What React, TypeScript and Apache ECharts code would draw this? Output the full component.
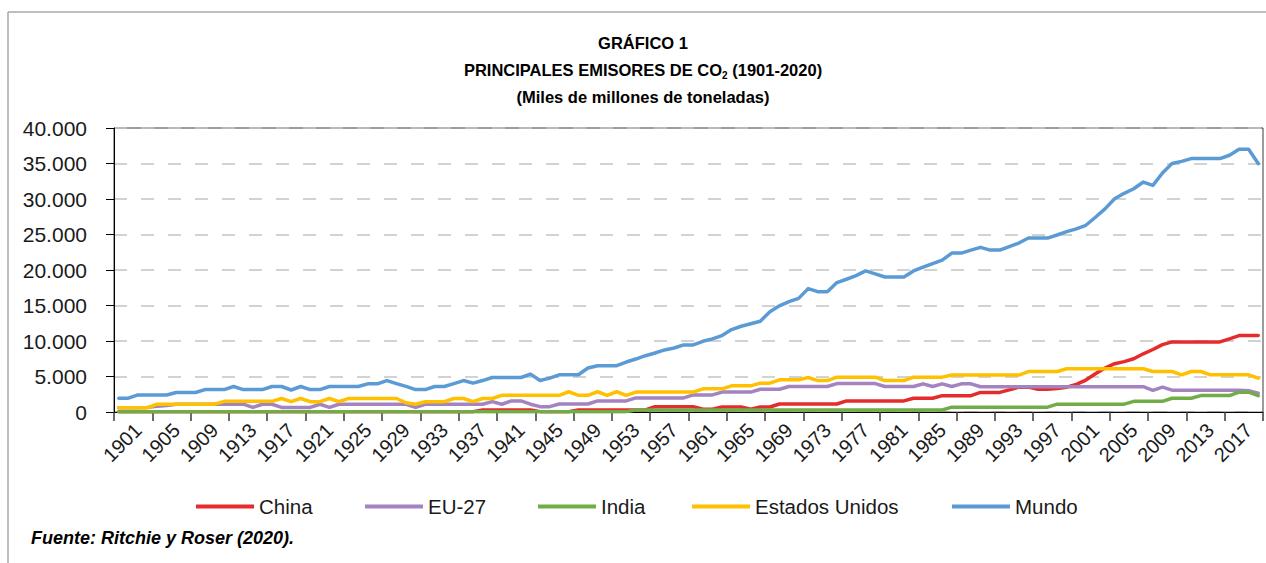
import { useEffect, useRef } from 'react';
import * as echarts from 'echarts';

// Categories: years 1901-2020
const years: string[] = Array.from({ length: 120 }, (_, i) => String(1901 + i));

// Values in millions of tonnes (axis shows "miles de millones" with '.' separator)
const china: number[] = [
  50, 50, 50, 50, 50, 50, 50, 50, 50, 50,
  50, 50, 50, 50, 50, 50, 50, 50, 50, 50,
  50, 50, 50, 50, 50, 50, 50, 50, 50, 50,
  50, 50, 50, 50, 50, 50, 50, 50, 280, 280,
  280, 280, 280, 280, 50, 50, 50, 50, 280, 280,
  280, 280, 280, 280, 280, 280, 750, 750, 750, 750,
  750, 400, 400, 700, 700, 700, 400, 700, 700, 1130,
  1130, 1130, 1130, 1130, 1130, 1130, 1560, 1560, 1560, 1560,
  1560, 1560, 1560, 1940, 1940, 1940, 2300, 2300, 2300, 2300,
  2760, 2760, 2760, 3120, 3500, 3500, 3200, 3200, 3300, 3500,
  3900, 4500, 5380, 6200, 6800, 7100, 7500, 8200, 8800, 9490,
  9870, 9870, 9870, 9870, 9870, 9870, 10300, 10760, 10760, 10760,
];

const eu27: number[] = [
  600, 600, 600, 650, 800, 900, 1100, 1100, 1100, 1100,
  1100, 1100, 1100, 1100, 650, 1090, 1090, 650, 650, 650,
  650, 1090, 650, 1090, 1090, 1090, 1090, 1090, 1090, 1090,
  1090, 650, 1090, 1090, 1090, 1090, 1090, 1090, 1100, 1460,
  1090, 1560, 1560, 1100, 750, 750, 1130, 1130, 1130, 1130,
  1560, 1560, 1560, 1560, 1980, 1980, 1980, 1980, 1980, 1980,
  2410, 2410, 2410, 2800, 2800, 2800, 2800, 3210, 3210, 3210,
  3590, 3590, 3590, 3590, 3590, 4000, 4000, 4000, 4000, 4000,
  3590, 3590, 3590, 3590, 3970, 3590, 3970, 3590, 3970, 3970,
  3560, 3560, 3560, 3560, 3560, 3560, 3560, 3560, 3560, 3560,
  3560, 3560, 3560, 3560, 3560, 3560, 3560, 3560, 3050, 3500,
  3070, 3070, 3070, 3070, 3070, 3070, 3070, 3070, 3000, 2650,
];

const india: number[] = [
  50, 50, 50, 50, 50, 50, 50, 50, 50, 50,
  50, 50, 50, 50, 50, 50, 50, 50, 50, 50,
  50, 50, 50, 50, 50, 50, 50, 50, 50, 50,
  50, 50, 50, 50, 50, 50, 50, 50, 50, 50,
  50, 50, 50, 50, 50, 50, 50, 50, 50, 50,
  50, 50, 50, 50, 280, 280, 280, 280, 280, 280,
  280, 280, 280, 280, 280, 280, 280, 280, 280, 280,
  280, 280, 280, 280, 280, 280, 280, 280, 280, 280,
  280, 280, 280, 280, 280, 280, 280, 680, 680, 680,
  680, 680, 680, 680, 680, 680, 680, 680, 1100, 1100,
  1100, 1100, 1100, 1100, 1100, 1100, 1500, 1500, 1500, 1500,
  1940, 1940, 1940, 2310, 2310, 2310, 2310, 2790, 2790, 2310,
];

const estadosUnidos: number[] = [
  600, 600, 600, 600, 1100, 1100, 1100, 1100, 1100, 1100,
  1100, 1500, 1500, 1500, 1500, 1500, 1500, 1900, 1450, 1900,
  1450, 1450, 1900, 1450, 1900, 1900, 1900, 1900, 1900, 1900,
  1300, 1100, 1450, 1450, 1450, 1900, 1900, 1450, 1900, 1900,
  2350, 2350, 2350, 2350, 2350, 2350, 2350, 2850, 2350, 2350,
  2850, 2350, 2850, 2350, 2800, 2800, 2800, 2800, 2800, 2800,
  2800, 3260, 3260, 3260, 3680, 3680, 3680, 4060, 4060, 4530,
  4530, 4530, 4860, 4430, 4430, 4910, 4910, 4910, 4910, 4910,
  4430, 4430, 4430, 4910, 4910, 4910, 4910, 5200, 5200, 5200,
  5200, 5200, 5200, 5200, 5200, 5700, 5700, 5700, 5700, 6090,
  6090, 6090, 6090, 6090, 6090, 6090, 6090, 6090, 5700, 5700,
  5700, 5240, 5700, 5700, 5240, 5240, 5240, 5240, 5240, 4770,
];

const mundo: number[] = [
  1950, 1950, 2400, 2400, 2400, 2400, 2750, 2750, 2750, 3160,
  3160, 3160, 3590, 3160, 3160, 3160, 3590, 3590, 3100, 3590,
  3160, 3160, 3590, 3590, 3590, 3590, 3970, 3970, 4430, 4000,
  3600, 3160, 3160, 3590, 3590, 4000, 4430, 4060, 4430, 4860,
  4860, 4860, 4860, 5340, 4430, 4770, 5240, 5240, 5240, 6190,
  6520, 6520, 6520, 7040, 7460, 7930, 8310, 8740, 9020, 9450,
  9450, 9960, 10300, 10760, 11610, 12080, 12420, 12790, 14120, 14950,
  15540, 16000, 17380, 16950, 16950, 18230, 18700, 19200, 19870, 19450,
  19020, 19020, 19020, 19870, 20400, 20900, 21390, 22380, 22380, 22800,
  23190, 22800, 22800, 23300, 23800, 24500, 24500, 24500, 24930, 25400,
  25800, 26300, 27430, 28610, 30030, 30800, 31440, 32390, 31910, 33670,
  34990, 35300, 35690, 35690, 35690, 35690, 36160, 37010, 37010, 34990,
];

const seriesNames: string[] = ['China', 'EU-27', 'India', 'Estados Unidos', 'Mundo'];
const seriesColors: string[] = ['#E52B2B', '#A383C0', '#70AD47', '#FFC000', '#5B9BD5'];
const yTickValues: number[] = [0, 5000, 10000, 15000, 20000, 25000, 30000, 35000, 40000];

const titleLines: string[] = ['GRÁFICO 1', 'PRINCIPALES EMISORES DE CO', '2', ' (1901-2020)', '(Miles de millones de toneladas)'];
const sourceText = 'Fuente: Ritchie y Roser (2020).';

function fmtThousands(v: number): string {
  return String(v).replace(/\B(?=(\d{3})+(?!\d))/g, '.');
}

export default function App() {
  const ref = useRef<HTMLDivElement>(null);

  useEffect(() => {
    if (!ref.current) return;
    const chart = echarts.init(ref.current, undefined, { renderer: 'svg' });
    const font = '"Liberation Sans", Arial, Helvetica, sans-serif';
    const data = [china, eu27, india, estadosUnidos, mundo];
    const legendLeft = [196, 365, 538, 692, 952];

    chart.setOption({
      animation: false,
      textStyle: { fontFamily: font },
      title: [
        {
          text: titleLines[0],
          left: 643,
          top: 34,
          textAlign: 'center',
          padding: 0,
          textStyle: { fontSize: 16.5, fontWeight: 'bold', color: '#000', fontFamily: font },
        },
        {
          text: `{b|${titleLines[1]}}{s|${titleLines[2]}}{b|${titleLines[3]}}`,
          left: 643,
          top: 60,
          textAlign: 'center',
          padding: 0,
          textStyle: {
            rich: {
              b: { fontSize: 16.5, fontWeight: 'bold', color: '#000', fontFamily: font, lineHeight: 20, verticalAlign: 'middle' },
              s: { fontSize: 10, fontWeight: 'bold', color: '#000', fontFamily: font, lineHeight: 8, verticalAlign: 'bottom' },
            },
          },
        },
        {
          text: titleLines[4],
          left: 643,
          top: 88,
          textAlign: 'center',
          padding: 0,
          textStyle: { fontSize: 16.5, fontWeight: 'bold', color: '#000', fontFamily: font },
        },
      ],
      legend: seriesNames.map((n, i) => ({
        data: [n],
        left: legendLeft[i],
        top: 496,
        padding: 0,
        icon: 'rect',
        itemWidth: 58,
        itemHeight: 4,
        selectedMode: false,
        textStyle: { fontSize: 20.5, color: '#1a1a1a', fontFamily: font },
      })),
      grid: {
        left: 114,
        right: 3,
        top: 128,
        bottom: 151,
        show: true,
        borderColor: '#3a3a3a',
        borderWidth: 1,
      },
      xAxis: {
        type: 'category',
        data: years,
        boundaryGap: true,
        axisLine: { show: true, lineStyle: { color: '#000', width: 1 } },
        axisTick: { show: true, interval: 3, length: 9, lineStyle: { color: '#3a3a3a', width: 1.5 } },
        axisLabel: {
          interval: 3,
          rotate: 45,
          align: 'center',
          verticalAlign: 'middle',
          margin: 34,
          fontSize: 20,
          color: '#1a1a1a',
          fontFamily: font,
          padding: [0, 0, 0, 10],
        },
        splitLine: { show: false },
      },
      yAxis: {
        type: 'value',
        min: yTickValues[0],
        max: yTickValues[yTickValues.length - 1],
        interval: yTickValues[1] - yTickValues[0],
        axisLine: { show: true, lineStyle: { color: '#000', width: 1 } },
        axisTick: { show: true, length: 8, lineStyle: { color: '#000', width: 1 } },
        axisLabel: {
          margin: 27,
          fontSize: 21,
          color: '#1a1a1a',
          fontFamily: font,
          formatter: (v: number) => fmtThousands(v),
        },
        splitLine: { show: true, lineStyle: { color: '#C4C4C4', width: 1.5, type: [13, 14] } },
      },
      series: seriesNames.map((n, i) => ({
        name: n,
        type: 'line',
        data: data[i],
        showSymbol: false,
        symbol: 'none',
        color: seriesColors[i],
        lineStyle: { color: seriesColors[i], width: 3.5, cap: 'round', join: 'round' },
        z: 2 + i,
      })),
      graphic: [
        { type: 'line', shape: { x1: 8, y1: 12, x2: 1266, y2: 12 }, style: { stroke: '#A8A8A8', lineWidth: 1.5 } },
        { type: 'line', shape: { x1: 8, y1: 12, x2: 8, y2: 563 }, style: { stroke: '#A8A8A8', lineWidth: 1.5 } },
        {
          type: 'text',
          left: 31,
          top: 529,
          style: { text: sourceText, font: `italic bold 18px ${font}`, fill: '#000' },
        },
      ],
    });

    return () => chart.dispose();
  }, []);

  return <div ref={ref} style={{ position: 'absolute', left: 0, top: 0, width: 1266, height: 563 }} />;
}
